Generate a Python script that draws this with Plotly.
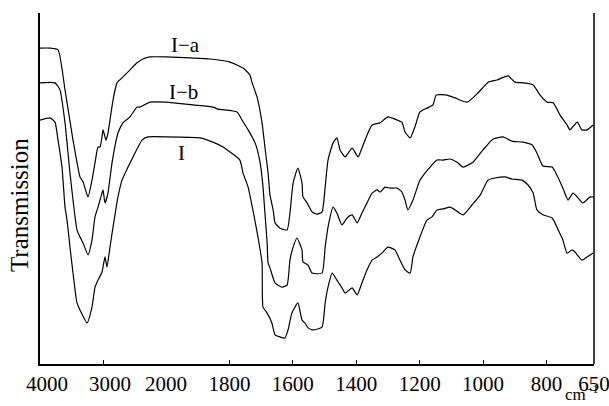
import plotly.graph_objects as go

# Wavenumber (cm-1) and transmission (arbitrary %)
wn_Ia = [4000, 3841, 3714, 3603, 3476, 3365, 3317, 3238, 3175, 3127, 3079, 3048, 3016, 3000, 2952, 2921,
         2889, 2841, 2778, 2683, 2571, 2460, 2365, 2254, 2000,
         1924, 1861, 1798, 1757, 1735, 1729, 1713, 1697, 1688, 1678, 1672, 1662, 1656, 1640, 1618, 1609,
         1599, 1584, 1571, 1568, 1555, 1539, 1524, 1508, 1498, 1489, 1473, 1461, 1451, 1435, 1413, 1394,
         1382, 1366, 1350, 1325, 1300, 1271, 1256, 1246, 1230, 1215, 1199, 1177, 1158, 1148, 1114, 1088,
         1050, 1016, 984, 956, 921, 899, 874, 842, 820, 798, 779, 757, 735, 726, 703, 688, 672, 653]
T_Ia = [90.0, 90.0, 89.5, 78.1, 63.8, 53.3, 51.9, 47.6, 52.4, 57.3, 61.8, 61.8, 64.7, 66.7, 63.8, 65.8,
        69.5, 75.2, 80.1, 81.8, 83.8, 85.8, 86.9, 87.5, 87.5,
        87.2, 86.9, 86.0, 84.3, 82.3, 80.3, 76.1, 68.7, 61.8, 54.4, 48.1, 43.9, 40.2, 38.7, 38.2, 43.0,
        51.6, 55.8, 51.6, 47.6, 45.9, 43.3, 42.7, 43.3, 50.4, 58.1, 63.0, 64.4, 61.0, 59.0, 61.5, 59.0,
        61.5, 65.2, 68.1, 68.7, 70.4, 69.5, 68.9, 66.1, 64.4, 67.5, 71.8, 72.9, 73.8, 76.6, 76.6, 75.8,
        74.6, 77.2, 80.3, 80.9, 82.1, 80.3, 80.1, 79.5, 76.6, 74.6, 74.4, 70.9, 68.1, 66.7, 68.9, 66.7, 66.7, 68.1]

wn_Ib = [4000, 3762, 3683, 3603, 3524, 3413, 3365, 3317, 3238, 3175, 3127, 3079, 3016, 3000, 2968, 2921,
         2857, 2762, 2683, 2571, 2460, 2413, 2254, 2000,
         1915, 1852, 1836, 1776, 1760, 1741, 1719, 1703, 1694, 1688, 1681, 1678, 1672, 1656, 1634, 1618,
         1609, 1599, 1587, 1571, 1568, 1552, 1539, 1508, 1498, 1489, 1473, 1461, 1445, 1429, 1413, 1397,
         1382, 1366, 1350, 1334, 1325, 1309, 1293, 1271, 1256, 1246, 1237, 1221, 1199, 1183, 1167, 1145,
         1126, 1104, 1082, 1063, 1032, 1000, 968, 937, 909, 874, 845, 830, 811, 782, 767, 748, 732, 716,
         700, 685, 662, 650]
T_Ib = [80.1, 80.1, 78.1, 68.7, 54.4, 38.2, 36.2, 34.5, 31.1, 35.3, 41.9, 44.7, 48.7, 49.6, 45.9, 48.7,
        57.3, 65.8, 68.7, 70.4, 73.2, 73.2, 74.6, 74.6,
        73.8, 73.2, 72.6, 71.8, 69.5, 66.7, 63.0, 57.3, 50.4, 43.0, 34.5, 28.8, 27.4, 23.1, 21.9, 22.5,
        29.6, 33.3, 35.9, 32.5, 29.1, 28.2, 25.9, 25.9, 33.3, 39.0, 44.7, 43.0, 39.6, 41.6, 42.5, 40.2,
        43.0, 45.9, 48.7, 49.6, 49.0, 50.4, 50.1, 50.1, 49.0, 46.7, 43.9, 46.7, 52.4, 54.4, 56.1, 58.1,
        58.1, 58.4, 57.5, 56.1, 57.5, 61.0, 64.1, 64.7, 63.5, 63.2, 62.4, 60.1, 56.4, 56.1, 53.8, 50.1, 46.7, 48.7,
        47.3, 45.9, 47.6, 47.6]

wn_I = [4000, 3841, 3762, 3714, 3651, 3603, 3571, 3524, 3476, 3413, 3365, 3254, 3175, 3127, 3079, 3016,
        2968, 2937, 2889, 2841, 2762, 2698, 2603, 2492, 2444, 2381, 2286, 2000,
        1893, 1852, 1820, 1798, 1767, 1757, 1741, 1726, 1710, 1697, 1694, 1681, 1666, 1656, 1640, 1625,
        1615, 1603, 1584, 1571, 1562, 1552, 1536, 1508, 1498, 1489, 1476, 1461, 1445, 1435, 1413, 1397,
        1382, 1366, 1350, 1334, 1319, 1300, 1278, 1262, 1246, 1230, 1221, 1199, 1177, 1161, 1145, 1126,
        1104, 1088, 1063, 1035, 1009, 984, 962, 931, 909, 877, 858, 842, 830, 811, 782, 763, 748, 735,
        719, 710, 688, 672, 653]
T_I = [69.5, 70.1, 68.9, 63.8, 56.1, 44.7, 41.0, 33.3, 25.9, 17.4, 15.4, 11.7, 16.2, 21.9, 23.9, 26.2,
       30.5, 27.6, 33.3, 39.0, 47.6, 52.4, 56.1, 60.1, 61.8, 63.8, 64.7, 64.7,
       64.4, 63.2, 61.8, 60.4, 58.1, 54.4, 50.4, 43.9, 36.2, 28.8, 16.2, 14.5, 11.7, 8.3, 7.7, 7.4,
       9.7, 14.5, 17.4, 12.5, 11.7, 10.3, 9.7, 10.5, 17.4, 21.9, 25.9, 23.9, 21.7, 20.2, 21.7, 19.7,
       23.1, 26.8, 29.6, 30.5, 31.6, 33.3, 32.5, 29.6, 26.8, 25.9, 30.5, 36.2, 41.0, 41.9, 43.9, 44.2,
       44.7, 43.9, 42.5, 45.3, 48.1, 52.4, 53.0, 53.3, 52.7, 52.4, 51.0, 48.7, 43.9, 42.5, 41.6, 38.2, 35.3, 31.6,
       32.5, 31.9, 29.6, 30.5, 31.6]

series = [("I−a", wn_Ia, T_Ia, 1940, 90.9),
          ("I−b", wn_Ib, T_Ib, 1946, 77.5),
          ("I", wn_I, T_I, 1952, 60.1)]

tick_hi = [4000, 3000]
tick_lo = [2000, 1800, 1600, 1400, 1200, 1000, 800, 650]
BREAK = 2000

SERIF = "Liberation Serif, Times New Roman, serif"

fig = go.Figure()
line = dict(color="black", width=1.2, shape="spline", smoothing=0.5)
for name, wn, T, lx, ly in series:
    hx = [w for w in wn if w >= BREAK]
    hy = [t for w, t in zip(wn, T) if w >= BREAK]
    lxs = [w for w in wn if w <= BREAK]
    lys = [t for w, t in zip(wn, T) if w <= BREAK]
    fig.add_trace(go.Scatter(x=hx, y=hy, mode="lines", line=line, xaxis="x", yaxis="y",
                             showlegend=False, hoverinfo="skip"))
    fig.add_trace(go.Scatter(x=lxs, y=lys, mode="lines", line=line, xaxis="x2", yaxis="y",
                             showlegend=False, hoverinfo="skip"))
    fig.add_annotation(x=lx, y=ly, xref="x2", yref="y", text=name, showarrow=False,
                       xanchor="center", yanchor="middle",
                       font=dict(family=SERIF, size=21, color="black"))

split = 126 / 554
axfont = dict(family=SERIF, size=21, color="black")
common = dict(ticks="inside", ticklen=4, tickcolor="black", showline=True, linecolor="black",
              linewidth=1.5, showgrid=False, zeroline=False, tickfont=axfont, anchor="y",
              automargin=False)
fig.update_layout(
    width=609, height=406, autosize=False,
    margin=dict(l=40, r=15, t=13, b=42, autoexpand=False),
    paper_bgcolor="white", plot_bgcolor="white",
    xaxis=dict(domain=[0, split], range=[4000, 2000], tickvals=tick_hi,
               ticktext=[str(v) for v in tick_hi], ticklabelshift=-7, **common),
    xaxis2=dict(domain=[split, 1], range=[2000, 650], tickvals=tick_lo,
                ticktext=[str(v) for v in tick_lo], ticklabeloverflow="allow", **common),
    yaxis=dict(range=[0, 100], showticklabels=False, ticks="", showgrid=False, zeroline=False,
               showline=True, linecolor="black", linewidth=1.5, automargin=False),
)
fig.add_shape(type="line", xref="paper", yref="paper", x0=1, x1=1, y0=0, y1=1,
              line=dict(color="black", width=1.5))
fig.add_annotation(xref="paper", yref="paper", x=-0.036, y=0.453, text="Transmission",
                   textangle=-90, showarrow=False, xanchor="center", yanchor="middle",
                   font=dict(family=SERIF, size=25, color="black"))
fig.add_annotation(xref="paper", yref="paper", x=0.978, y=-0.119, text="cm<sup>−1</sup>",
                   showarrow=False, xanchor="center", yanchor="bottom",
                   font=dict(family=SERIF, size=17, color="black"))
fig.write_html("out.html", config={"displayModeBar": False, "responsive": False},
               post_script="document.body.style.margin='0';document.body.style.overflow='hidden';")
